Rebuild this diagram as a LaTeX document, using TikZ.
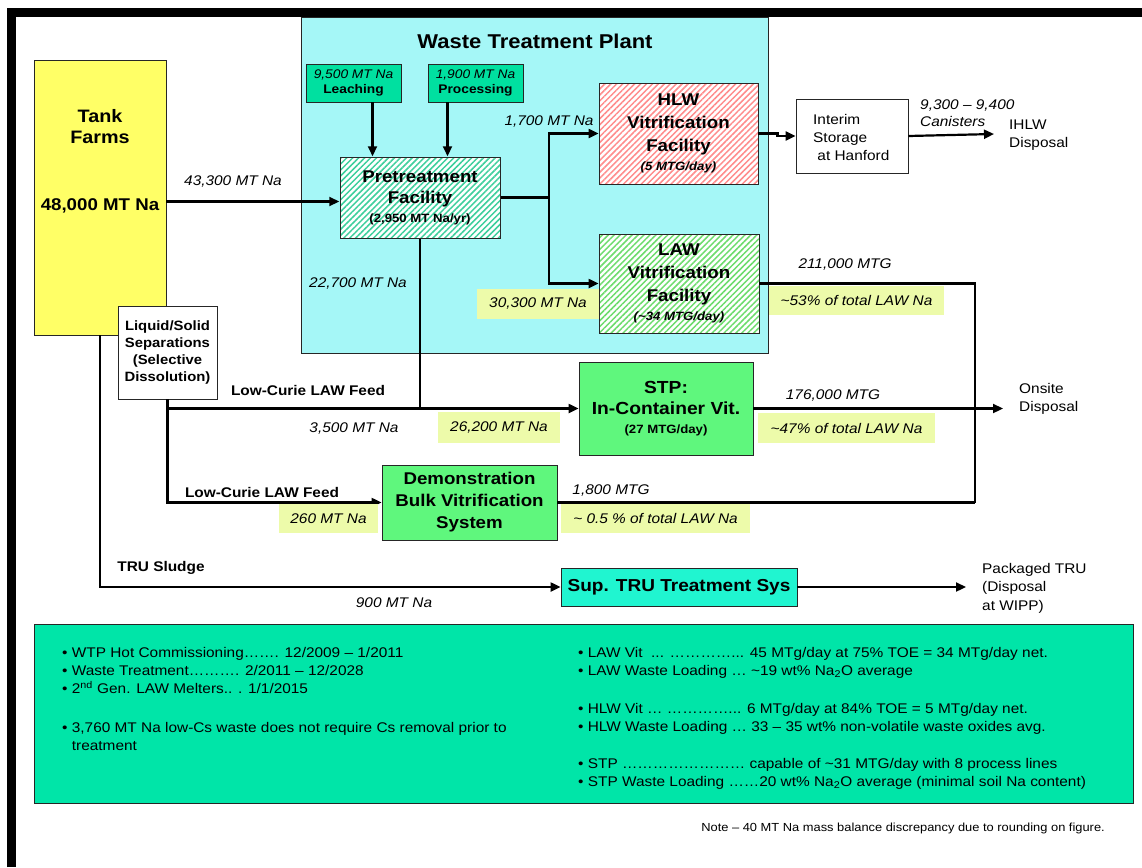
\documentclass[tikz,border=0pt]{standalone}
\usepackage{fontspec}
\setmainfont{Liberation Sans}[FakeStretch=1.1]
\usetikzlibrary{arrows.meta,patterns.meta}
\definecolor{tankY}{HTML}{FFFF66}
\definecolor{wtpC}{HTML}{A5F7F7}
\definecolor{tealB}{HTML}{00E0A0}
\definecolor{greenB}{HTML}{5FF77D}
\definecolor{aquaB}{HTML}{20F5D0}
\definecolor{botB}{HTML}{00E5A8}
\definecolor{hlc}{HTML}{EDFBAA}
\definecolor{preS}{HTML}{3CCF9C}
\definecolor{hlwS}{HTML}{FF8C8C}
\definecolor{lawS}{HTML}{6CDC6C}
\begin{document}
\begin{tikzpicture}[x=1pt,y=-1pt,
  box/.style={draw=black!85, line width=0.9pt, inner sep=0pt, align=center},
  arr/.style={line width=2.2pt, -{Triangle[length=10pt,width=9pt]}},
  ln/.style={line width=2.2pt},
  lab/.style={font=\itshape\fontsize{14}{17}\selectfont, inner sep=0pt},
  hl/.style={fill=hlc, inner sep=0pt, font=\itshape\fontsize{14}{17}\selectfont},
  plain/.style={font=\fontsize{14}{18}\selectfont, inner sep=0pt, align=left},
  bl/.style={font=\bfseries\fontsize{14}{16}\selectfont, inner sep=0pt},
  hatch/.style={preaction={fill=white}, pattern={Lines[angle=45,distance=4.2pt,line width=1.5pt]}, pattern color=#1}
]
\useasboundingbox (0,0) rectangle (1142,867);
% frame
\draw[line width=9pt] (11.5,867) -- (11.5,13) -- (1142,13);

% Waste Treatment Plant background
\node[box, fill=wtpC, minimum width=467pt, minimum height=336pt] (wtp) at (534.5,185) {};
\node[font=\bfseries\fontsize{20}{24}\selectfont, inner sep=0pt] (wtpt) at (535,41) {Waste Treatment Plant};

% Tank farms
\node[box, fill=tankY, minimum width=132pt, minimum height=275pt] (tank) at (100,197.5) {};
\node[font=\bfseries\fontsize{18}{21}\selectfont, inner sep=0pt, align=center] (tankt) at (100,127) {Tank\\Farms};
\node[font=\bfseries\fontsize{17}{21}\selectfont, inner sep=0pt] (tankn) at (100,206) {48,000 MT Na};

% Leaching / Processing
\node[box, fill=tealB, minimum width=95pt, minimum height=38pt, font=\fontsize{12.5}{15}\selectfont] (leach) at (353.5,83)
  {\itshape 9,500 MT Na\\\bfseries Leaching};
\node[box, fill=tealB, minimum width=95pt, minimum height=38pt, font=\fontsize{12.5}{15}\selectfont] (proc) at (475.5,83)
  {\itshape 1,900 MT Na\\\bfseries Processing};

% Pretreatment
\node[box, hatch=preS, minimum width=160pt, minimum height=81pt, font=\bfseries\fontsize{17}{21}\selectfont] (pre) at (420,197.5)
  {Pretreatment\\Facility\\[-2pt]{\fontsize{12}{15}\selectfont (2,950 MT Na/yr)}};

% HLW
\node[box, hatch=hlwS, minimum width=159pt, minimum height=101pt, font=\bfseries\fontsize{17}{23}\selectfont] (hlw) at (678.5,133.5)
  {HLW\\Vitrification\\Facility\\[-4pt]{\itshape\fontsize{12}{15}\selectfont (5 MTG/day)}};

% LAW
\node[box, hatch=lawS, minimum width=160pt, minimum height=99pt, font=\bfseries\fontsize{17}{23}\selectfont] (law) at (679,283.5)
  {LAW\\Vitrification\\Facility\\[-4pt]{\itshape\fontsize{12}{15}\selectfont (\textasciitilde34 MTG/day)}};

% Interim storage
\node[box, fill=white, minimum width=112pt, minimum height=74pt] (stor) at (852,136) {};
\node[plain, anchor=west] (stort) at (813,137) {Interim\\Storage\\\ at Hanford};

% IHLW
\node[plain, anchor=west] (ihlw) at (1009,135.5) {IHLW\\Disposal};
\node[lab, anchor=west, align=left] (can) at (920,113) {9,300 – 9,400\\Canisters};
\coordinate (ihlwend) at (994,134);

% STP
\node[box, fill=greenB, minimum width=174pt, minimum height=93pt, font=\bfseries\fontsize{17.5}{21}\selectfont] (stp) at (666,408.5)
  {STP:\\In-Container Vit.\\[-2pt]{\fontsize{12}{15}\selectfont (27 MTG/day)}};

% Liquid/Solid
\node[box, fill=white, minimum width=99pt, minimum height=93pt, font=\bfseries\fontsize{13.5}{17}\selectfont] (ls) at (167.5,352.5)
  {Liquid/Solid\\Separations\\(Selective\\Dissolution)};

% Demo
\node[box, fill=greenB, minimum width=175pt, minimum height=75pt, font=\bfseries\fontsize{17}{22}\selectfont] (demo) at (469.5,502.5)
  {Demonstration\\Bulk Vitrification\\System};

% Sup TRU
\node[box, fill=aquaB, minimum width=236pt, minimum height=38pt, font=\bfseries\fontsize{17.3}{20}\selectfont] (tru) at (679,587)
  {Sup. TRU Treatment Sys};

% Onsite disposal and packaged TRU
\node[plain, anchor=west] (onsite) at (1019,399) {Onsite\\Disposal};
\coordinate (onend) at (1003,408.5);
\node[plain, anchor=west, font=\fontsize{14}{18.5}\selectfont] (pack) at (982,588) {Packaged TRU\\(Disposal\\at WIPP)};
\coordinate (packend) at (966,587);
\coordinate (jn) at (975,502.5);
\coordinate (sp) at (549,197.5);

% Connectors
\draw[arr] ([yshift=-4pt]tank.east) -- ([yshift=-4pt]pre.west);
\draw[arr] ([xshift=19pt]leach.south) -- ([xshift=19pt]leach.south |- pre.north);
\draw[arr] ([xshift=-28pt]proc.south) -- ([xshift=-28pt]proc.south |- pre.north);
\draw[ln] (pre.east) -- (sp);
\draw[arr] (sp) |- (hlw.west);
\draw[arr] (sp) |- (law.west);
\draw[arr] (hlw.east) -- ++(19,0) |- (stor.west);
\draw[arr] (stor.east) -- (ihlwend);
\draw[ln] (law.east) -| (jn);
\draw[ln] (demo.east) -- (jn);
\draw[arr] (stp.east) -- (onend);
\draw[ln] (pre.south) -- (pre.south |- stp.west);
\draw[arr] (ls.south) |- (stp.west);
\draw[arr] (ls.south) |- (demo.west);
\draw[arr] (tank.south) |- (tru.west);
\draw[arr] (tru.east) -- (packend);

% Flow labels
\node[lab] (l43) at (233,182) {43,300 MT Na};
\node[lab] (l17) at (549,122) {1,700 MT Na};
\node[lab] (l227) at (358,284) {22,700 MT Na};
\node[hl, minimum width=122pt, minimum height=30pt] (l303) at (538,304) {30,300 MT Na};
\node[lab] (l211) at (845,265) {211,000 MTG};
\node[hl, minimum width=175pt, minimum height=29pt] (l53) at (856.5,300.5) {\textasciitilde53\% of total LAW Na};
\node[lab] (l176) at (833,396) {176,000 MTG};
\node[hl, minimum width=177pt, minimum height=30pt] (l47) at (846.5,428) {\textasciitilde47\% of total LAW Na};
\node[bl] (lcf1) at (308,390) {Low-Curie LAW Feed};
\node[lab] (l35) at (354,429) {3,500 MT Na};
\node[hl, minimum width=122pt, minimum height=31pt] (l262) at (499,427.5) {26,200 MT Na};
\node[bl] (lcf2) at (262,492) {Low-Curie LAW Feed};
\node[hl, minimum width=99pt, minimum height=29pt] (l260) at (328.5,518.5) {260 MT Na};
\node[lab] (l18) at (611,491) {1,800 MTG};
\node[hl, minimum width=189pt, minimum height=29pt] (l05) at (655.5,518.5) {\textasciitilde{} 0.5 \% of total LAW Na};
\node[bl] (trus) at (161,568) {TRU Sludge};
\node[lab] (l900) at (394,603) {900 MT Na};

% Bottom info box
\node[box, fill=botB, minimum width=1099pt, minimum height=179pt] (info) at (583.5,713.5) {};
\node[plain, anchor=north west] (infoL) at (62,647)
  {• WTP Hot Commissioning……. 12/2009 – 1/2011\\
   • Waste Treatment………. 2/2011 – 12/2028\\
   • 2\textsuperscript{nd} Gen. LAW Melters.. . 1/1/2015\\[21pt]
   • 3,760 MT Na low-Cs waste does not require Cs removal prior to\\
   \phantom{• }treatment};
\node[plain, anchor=north west] (infoR) at (578,647)
  {• LAW Vit\ \ ... …………... 45 MTg/day at 75\% TOE = 34 MTg/day net.\\
   • LAW Waste Loading … \textasciitilde19 wt\% Na\textsubscript{2}O average\\[20pt]
   • HLW Vit … …………... 6 MTg/day at 84\% TOE = 5 MTg/day net.\\
   • HLW Waste Loading … 33 – 35 wt\% non-volatile waste oxides avg.\\[19pt]
   • STP …………………… capable of \textasciitilde31 MTG/day with 8 process lines\\
   • STP Waste Loading ……20 wt\% Na\textsubscript{2}O average (minimal soil Na content)};

\node[font=\fontsize{11.7}{13}\selectfont, inner sep=0pt, anchor=east] (note) at (1105,828)
  {Note – 40 MT Na mass balance discrepancy due to rounding on figure.};
\end{tikzpicture}
\end{document}
